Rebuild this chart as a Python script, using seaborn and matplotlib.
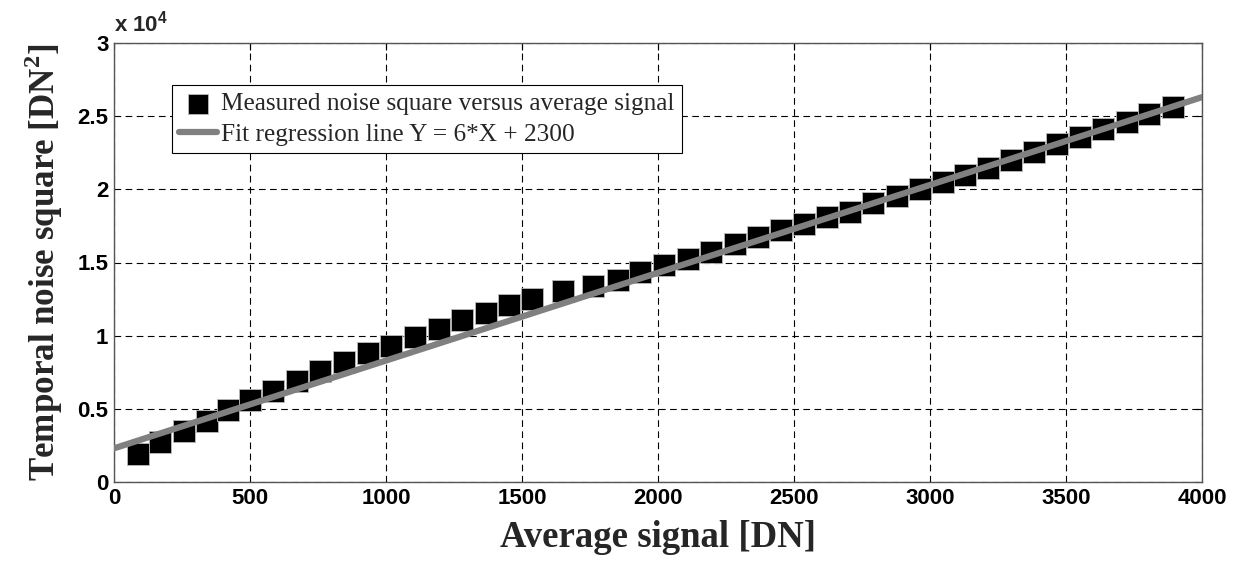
import matplotlib
matplotlib.use("Agg")
import matplotlib.pyplot as plt
from matplotlib.ticker import FuncFormatter
import seaborn as sns
import pandas as pd

# ---- data ----
avg_signal = [87, 170, 256, 343, 419, 501, 583, 672, 757, 847,
              933, 1017, 1107, 1194, 1279, 1366, 1451, 1538, 1652, 1760,
              1853, 1935, 2023, 2109, 2194, 2282, 2366, 2451, 2537, 2620,
              2706, 2792, 2877, 2963, 3047, 3130, 3214, 3298, 3384, 3467,
              3553, 3637, 3723, 3806, 3892]
noise_sq = [1890, 2755, 3460, 4170, 4940, 5600, 6220, 6930, 7590, 8230,
            8800, 9320, 9910, 10480, 11050, 11570, 12070, 12480, 13050, 13370,
            13780, 14350, 14810, 15260, 15720, 16290, 16740, 17220, 17650, 18110,
            18450, 19040, 19570, 19990, 20500, 20980, 21440, 22000, 22550, 23080,
            23580, 24150, 24620, 25170, 25630]
fit_slope = 6
fit_intercept = 2300
fit_x = [0, 4000]
fit_y = [fit_slope * v + fit_intercept for v in fit_x]

x_ticks = [0, 500, 1000, 1500, 2000, 2500, 3000, 3500, 4000]
y_ticks = [0, 5000, 10000, 15000, 20000, 25000, 30000]

label_meas = "Measured noise square versus average signal"
label_fit = "Fit regression line Y = 6*X + 2300"

df_meas = pd.DataFrame({"x": avg_signal, "y": noise_sq})
df_fit = pd.DataFrame({"x": fit_x, "y": fit_y})

sns.set_style("white")
plt.rcParams["font.family"] = ["Liberation Sans", "DejaVu Sans"]
plt.rcParams["mathtext.fontset"] = "custom"
plt.rcParams["mathtext.rm"] = "Liberation Serif"
plt.rcParams["mathtext.bf"] = "Liberation Serif:bold"
plt.rcParams["mathtext.sf"] = "Liberation Sans:bold"

fig = plt.figure(figsize=(12.4, 5.61), dpi=100)
ax = fig.add_axes([114 / 1240, 1 - 482 / 561, 1088 / 1240, 439 / 561])

sns.scatterplot(data=df_meas, x="x", y="y", marker="s", s=15.5 ** 2,
                color="black", edgecolor="#bbbbbb", linewidth=0.6,
                label=label_meas, ax=ax, zorder=3)
sns.lineplot(data=df_fit, x="x", y="y", color="#808080", linewidth=4.5,
             label=label_fit, ax=ax, zorder=4)

ax.set_xlim(0, 4000)
ax.set_ylim(0, 30000)
ax.set_xticks(x_ticks)
ax.set_yticks(y_ticks)
ax.yaxis.set_major_formatter(FuncFormatter(lambda v, p: f"{v / 1e4:g}"))

ax.grid(True, color="black", linestyle=(0, (6, 4)), linewidth=0.8)
ax.set_axisbelow(True)
for sp in ax.spines.values():
    sp.set_color("#555555")
    sp.set_linewidth(1.0)

ax.tick_params(axis="both", direction="in", length=5, width=0.8,
               top=True, right=True, labelsize=16, pad=4, colors="black")
for lab in ax.get_xticklabels() + ax.get_yticklabels():
    lab.set_fontweight("bold")

ax.set_xlabel("Average signal [DN]", family="Liberation Serif",
              fontweight="bold", fontsize=26.5, labelpad=8)
ax.set_ylabel(r"Temporal noise square [DN$^{\mathbf{2}}$]", family="Liberation Serif",
              fontweight="bold", fontsize=25.2, labelpad=9)

ax.text(0.0, 1.015, r"x 10$^{\mathsf{4}}$", transform=ax.transAxes,
        fontsize=16, fontweight="bold", ha="left", va="bottom")

leg = ax.legend(loc="upper left", bbox_to_anchor=(0.053, 0.904),
                prop={"family": "Liberation Serif", "size": 18.2},
                frameon=True, fancybox=False, framealpha=1, edgecolor="black",
                borderpad=0.3, labelspacing=0.3, handlelength=1.5,
                handletextpad=0.15, borderaxespad=0)
leg.get_frame().set_linewidth(0.8)
for h in leg.legend_handles:
    try:
        h.set_sizes([14.5 ** 2])
    except Exception:
        pass

fig.savefig("out.png", dpi=100)
